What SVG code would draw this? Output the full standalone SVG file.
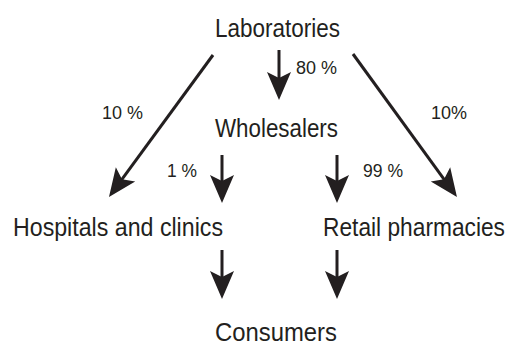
<svg xmlns="http://www.w3.org/2000/svg" width="509" height="347" viewBox="0 0 509 347">
  <style>
    .lbl { font-family: "Liberation Sans", Arial, sans-serif; font-size: 25px; fill: #231f20; }
    .pct { font-family: "Liberation Sans", Arial, sans-serif; font-size: 18px; fill: #231f20; }
    .edge { stroke: #231f20; stroke-width: 3; fill: none; marker-end: url(#head); }
  </style>
  <defs>
    <marker id="head" markerUnits="userSpaceOnUse" viewBox="-10 -14 40 28" markerWidth="40" markerHeight="28" refX="0" refY="0" orient="auto">
      <path d="M20,0 L-8,-12 L-2,0 L-8,12 Z" fill="#231f20"/>
    </marker>
  </defs>
  <rect width="509" height="347" fill="#ffffff"/>

  <g id="connectors">
    <line class="edge" x1="279" y1="50" x2="279" y2="80"/>
    <line class="edge" x1="213" y1="55" x2="120.8" y2="180.9"/>
    <line class="edge" x1="353" y1="54" x2="445.2" y2="180.8"/>
    <line class="edge" x1="222" y1="155" x2="222" y2="183"/>
    <line class="edge" x1="337" y1="155" x2="337" y2="183"/>
    <line class="edge" x1="222" y1="250" x2="222" y2="279"/>
    <line class="edge" x1="337" y1="250" x2="337" y2="279"/>
    <text class="pct" x="296" y="74" textLength="41" lengthAdjust="spacingAndGlyphs">80 %</text>
    <text class="pct" x="102" y="119" textLength="41" lengthAdjust="spacingAndGlyphs">10 %</text>
    <text class="pct" x="431" y="119" textLength="36" lengthAdjust="spacingAndGlyphs">10%</text>
    <text class="pct" x="167" y="177" textLength="30" lengthAdjust="spacingAndGlyphs">1 %</text>
    <text class="pct" x="363" y="177" textLength="40" lengthAdjust="spacingAndGlyphs">99 %</text>
  </g>

  <g id="laboratories">
    <text class="lbl" x="215" y="37" textLength="125" lengthAdjust="spacingAndGlyphs">Laboratories</text>
  </g>
  <g id="wholesalers">
    <text class="lbl" x="215" y="137" textLength="123" lengthAdjust="spacingAndGlyphs">Wholesalers</text>
  </g>
  <g id="hospitals">
    <text class="lbl" x="13" y="236" textLength="210" lengthAdjust="spacingAndGlyphs">Hospitals and clinics</text>
  </g>
  <g id="pharmacies">
    <text class="lbl" x="323" y="236" textLength="182" lengthAdjust="spacingAndGlyphs">Retail pharmacies</text>
  </g>
  <g id="consumers">
    <text class="lbl" x="215" y="341" textLength="122" lengthAdjust="spacingAndGlyphs">Consumers</text>
  </g>
</svg>
